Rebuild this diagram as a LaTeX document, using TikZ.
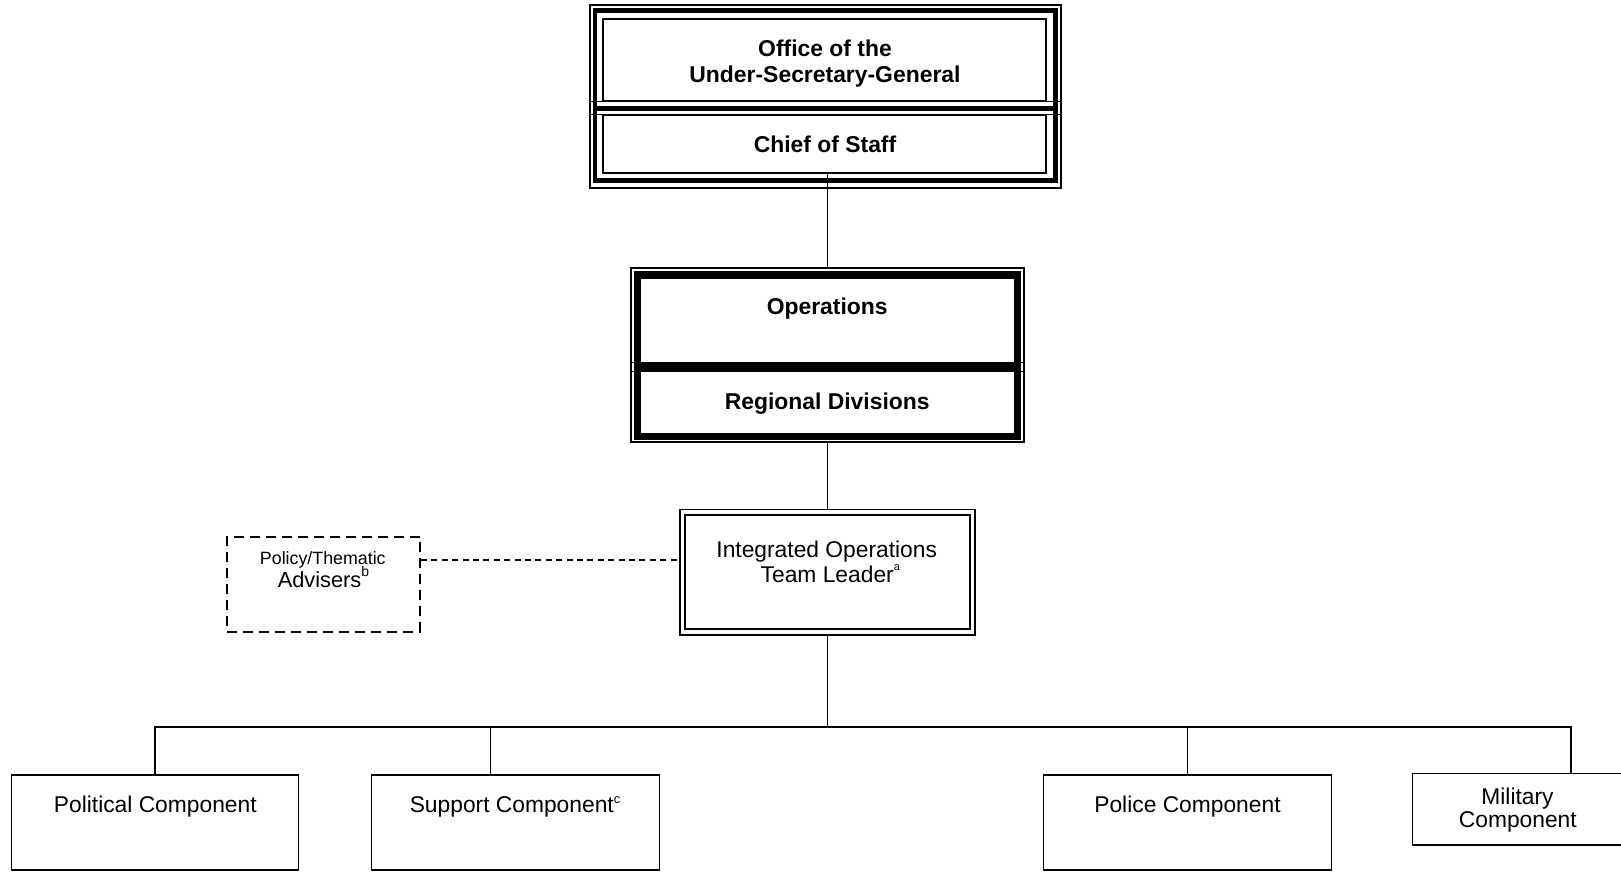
\documentclass[tikz,border=0pt]{standalone}
\usepackage{fontspec}
\setmainfont{Liberation Sans}
\usetikzlibrary{calc,fit}

% small raised footnote letter: size, raise, letter
\newcommand{\notemark}[3]{\raisebox{#2}{\fontsize{#1}{#1}\selectfont #3}}

\begin{document}
\begin{tikzpicture}[x=0.5pt,y=-0.5pt,
  orgbox/.style={draw, line width=0.7pt, inner sep=0pt, rectangle},
  thinline/.style={line width=0.6pt},
  conn/.style={draw, line width=0.75pt},
  dashconn/.style={draw, line width=0.75pt, dash pattern=on 3pt off 2.2pt},
  dashbox/.style={draw, line width=1pt, dash pattern=on 5pt off 3pt, inner sep=0pt, rectangle},
  headtxt/.style={font=\fontsize{11.45pt}{13pt}\selectfont\bfseries, inner sep=0pt, anchor=base},
  bodytxt/.style={font=\fontsize{11.4pt}{13pt}\selectfont, inner sep=0pt, anchor=base},
]
\useasboundingbox (0,0) rectangle (1621,872);

% --- Office of the USG / Chief of Staff: thin outer frame, thick band, two panels
\draw[thinline] (590,5) rectangle (1061,188);
\draw[line width=2.35pt] (595,10.8) rectangle (1055.5,180.8);
\draw[thinline] (590,101.5) -- (1061,101.5) (590,114.5) -- (1061,114.5);
\fill (593.8,105.8) rectangle (1056.7,110.8);
\node[orgbox, fit={(603,19) (1046,101)}] (usg) {};
\node[orgbox, fit={(603,115) (1046,173)}] (cos) {};
\node[headtxt] (usg1) at (825,56.4) {Office of the};
\node[headtxt] (usg2) at (825,82.6) {Under-Secretary-General};
\node[headtxt] (cost) at (825,152) {Chief of Staff};

% --- Operations / Regional Divisions
\node[orgbox, fit={(631,268) (1024,442)}] (ops) {};
\draw[line width=3.75pt] (637.5,275) rectangle (1017.5,436.5);
\draw[thinline] (631,362.8) -- (1024,362.8) (631,371.6) -- (1024,371.6);
\fill (635.6,362.8) rectangle (1019.4,371.6);
\node[headtxt] (opst) at (827.2,314) {Operations};
\node[headtxt] (regt) at (827.2,409.5) {Regional Divisions};

% --- Integrated Operations Team Leader
\node[orgbox, fit={(680,509.3) (975,635)}] (iot) {};
\draw[line width=1.15pt] (685.3,515) rectangle (969.7,629.3);
\node[bodytxt] (iot1) at (826.7,557.8) {Integrated Operations};
\node[bodytxt] (iot2) at (830.3,582.2) {Team Leader\notemark{5.5pt}{5.8pt}{a}};

% --- Policy/Thematic Advisers
\node[dashbox, fit={(227.3,536.7) (420,631.7)}] (adv) {};
\node[font=\fontsize{8.9pt}{10pt}\selectfont, inner sep=0pt, anchor=base] (adv1) at (322.8,564.3) {Policy/Thematic};
\node[font=\fontsize{10.9pt}{12pt}\selectfont, inner sep=0pt, anchor=base] (adv2) at (323.5,587.7) {Advisers\notemark{7pt}{5.5pt}{b}};

% --- Components
\node[orgbox, fit={(11.7,775) (298.3,870)}] (pol) {};
\node[orgbox, fit={(371.3,775) (659.5,870)}] (sup) {};
\node[orgbox, fit={(1043.2,775) (1331.5,870)}] (pok) {};
\node[orgbox, fit={(1412.7,773.3) (1626,845)}] (mil) {};
\node[bodytxt] (polt) at (155.3,812.3) {Political Component};
\node[bodytxt] (supt) at (515,812.3) {Support Component\notemark{6.4pt}{4.2pt}{c}};
\node[bodytxt] (pokt) at (1187.5,812.3) {Police Component};
\node[bodytxt] (mil1) at (1517.5,804) {Military};
\node[bodytxt] (mil2) at (1517.8,827.5) {Component};

% --- Connectors
\coordinate (bus) at (827.5,727);
\coordinate (supin) at ($(sup.north west)+(119.7,0)$);
\coordinate (milin) at ($(mil.north west)+(159,0)$);
\coordinate (iotin) at (iot.west |- 0,560);
\draw[conn] (cos.south -| iot.north) -- (ops.north);
\draw[conn] (ops.south) -- (iot.north);
\draw[conn] (iot.south) -- (iot.south |- bus);
\draw[conn] (pol.north) |- (milin |- bus) -- (milin);
\draw[conn] (supin |- bus) -- (supin);
\draw[conn] (pok.north |- bus) -- (pok.north);
\draw[dashconn] (adv.east |- iotin) -- (iotin);
\end{tikzpicture}
\end{document}
